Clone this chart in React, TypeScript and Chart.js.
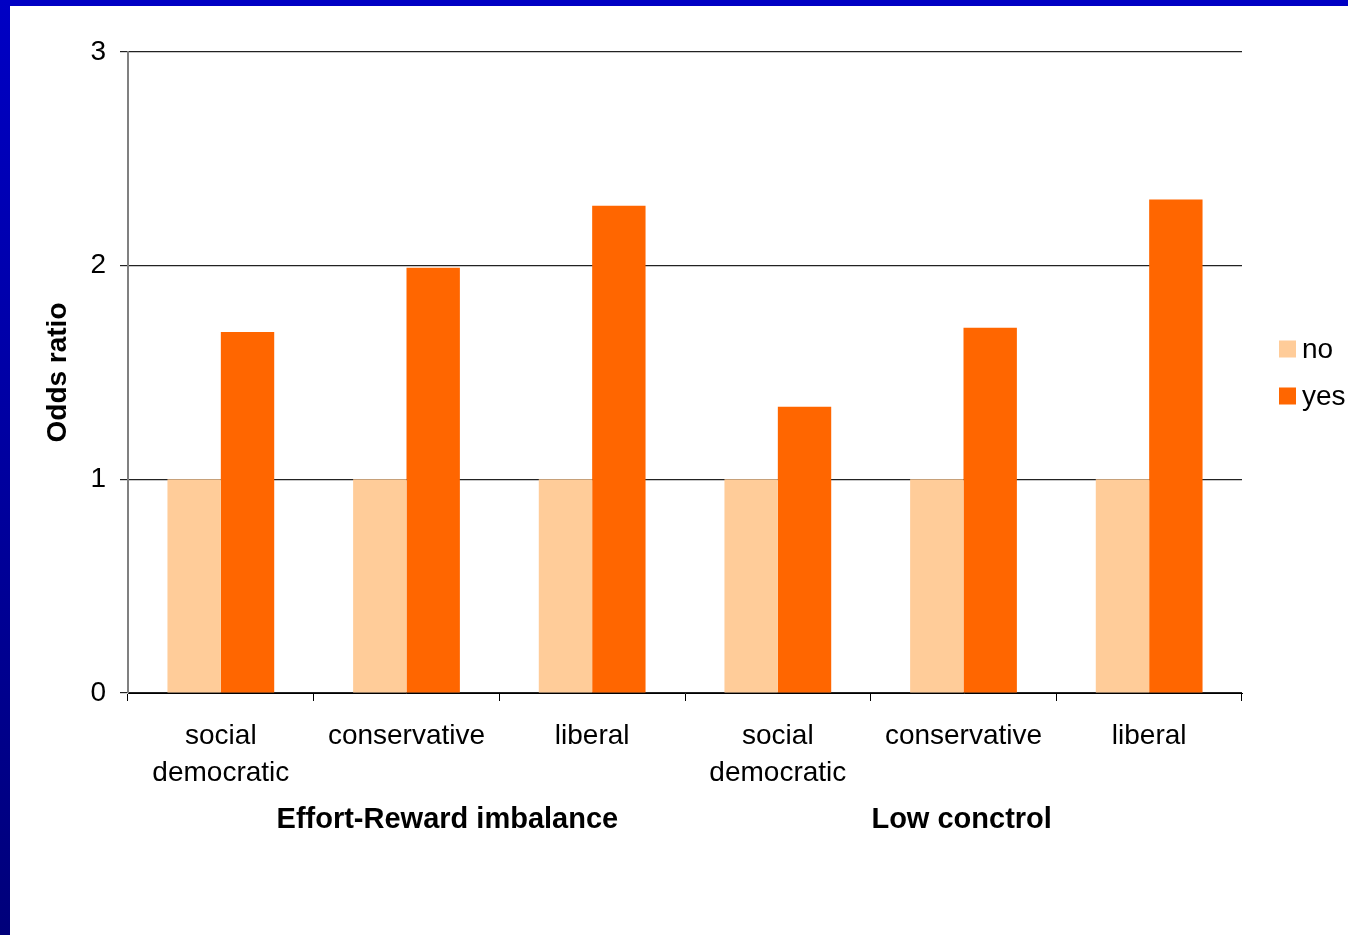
import React, { useEffect, useRef } from "react";
import { Chart, registerables } from "chart.js";

Chart.register(...registerables);

// Welfare regime categories, two per exposure block
const categories: (string | string[])[] = [
  ["social", "democratic"],
  "conservative",
  "liberal",
  ["social", "democratic"],
  "conservative",
  "liberal",
];

// Odds ratios: reference group ("no") and exposed group ("yes")
const noValues = [1, 1, 1, 1, 1, 1];
const yesValues = [1.69, 1.99, 2.28, 1.34, 1.71, 2.31];

const seriesLabels = ["no", "yes"];
const groupLabels = ["Effort-Reward imbalance", "Low conctrol"];
const yTicks = [0, 1, 2, 3];

const FONT = 'Arial, "Liberation Sans", sans-serif';
const COLOR_NO = "#FFCC99";
const COLOR_YES = "#FF6600";

// horizontal anchor of each group caption, in category units
const groupAnchor = [1.22, 3.99];

const captionsPlugin = {
  id: "captions",
  afterDraw(chart: any) {
    const { ctx, chartArea, scales } = chart;
    const xs = scales.x;
    const x0 = xs.getPixelForValue(0);
    const step = xs.getPixelForValue(1) - x0;
    ctx.save();
    ctx.fillStyle = "#000";
    ctx.font = `bold 29px ${FONT}`;
    ctx.textAlign = "center";
    ctx.textBaseline = "middle";
    groupLabels.forEach((g, i) => {
      ctx.fillText(g, x0 + step * groupAnchor[i], chartArea.bottom + 127);
    });

    // legend on the right
    const mid = (chartArea.top + chartArea.bottom) / 2;
    const lx = chartArea.right + 37;
    const colors = [COLOR_NO, COLOR_YES];
    ctx.font = `28px ${FONT}`;
    ctx.textAlign = "left";
    seriesLabels.forEach((s, i) => {
      const cy = mid - 23.5 + i * 47;
      ctx.fillStyle = colors[i];
      ctx.fillRect(lx, cy - 8.5, 17, 17);
      ctx.fillStyle = "#000";
      ctx.fillText(s, lx + 23, cy + 1);
    });
    ctx.restore();
  },
};

export default function App() {
  const ref = useRef<HTMLCanvasElement>(null);

  useEffect(() => {
    if (!ref.current) return;
    const chart = new Chart(ref.current, {
      type: "bar",
      data: {
        labels: categories,
        datasets: [
          {
            label: seriesLabels[0],
            data: noValues,
            backgroundColor: COLOR_NO,
            categoryPercentage: 0.575,
            barPercentage: 1,
          },
          {
            label: seriesLabels[1],
            data: yesValues,
            backgroundColor: COLOR_YES,
            categoryPercentage: 0.575,
            barPercentage: 1,
          },
        ],
      },
      options: {
        animation: false,
        responsive: false,
        maintainAspectRatio: false,
        layout: { padding: { top: 52, right: 106, left: 0, bottom: 0 } },
        plugins: {
          legend: { display: false },
          tooltip: { enabled: false },
        },
        scales: {
          x: {
            grid: {
              offset: true,
              drawOnChartArea: false,
              drawTicks: true,
              tickLength: 8,
              color: "#000",
              lineWidth: 1,
            },
            border: { color: "#000", width: 1 },
            ticks: {
              color: "#000",
              font: { family: FONT, size: 28, lineHeight: 1.32 },
              padding: 17,
              maxRotation: 0,
              autoSkip: false,
            },
            afterFit(scale: any) {
              scale.height = 242;
            },
          },
          y: {
            min: 0,
            max: 3,
            afterBuildTicks(scale: any) {
              scale.ticks = yTicks.map((v) => ({ value: v }));
            },
            grid: {
              color: "#222",
              lineWidth: 1.2,
              drawTicks: true,
              tickLength: 8,
            },
            border: { color: "#808080", width: 2 },
            ticks: {
              color: "#000",
              font: { family: FONT, size: 28 },
              padding: 14,
            },
            title: {
              display: true,
              text: "Odds ratio",
              color: "#000",
              font: { family: FONT, size: 28, weight: "bold", lineHeight: 1.2 },
              padding: { top: 41, bottom: 0 },
            },
            afterFit(scale: any) {
              scale.width = 128;
            },
          },
        },
      },
      plugins: [captionsPlugin],
    });
    return () => chart.destroy();
  }, []);

  return (
    <div
      style={{
        position: "fixed",
        left: 0,
        top: 0,
        width: 1348,
        height: 935,
        background: "#fff",
        overflow: "hidden",
      }}
    >
      <canvas
        ref={ref}
        width={1348}
        height={935}
        style={{ position: "absolute", left: 0, top: 0, width: 1348, height: 935 }}
      />
      <div
        style={{
          position: "absolute",
          left: 0,
          top: 0,
          width: 1348,
          height: 6,
          background: "#0000C4",
        }}
      />
      <div
        style={{
          position: "absolute",
          left: 0,
          top: 0,
          width: 10,
          height: 935,
          background: "linear-gradient(to bottom, #0000C4, #00007A)",
        }}
      />
    </div>
  );
}
